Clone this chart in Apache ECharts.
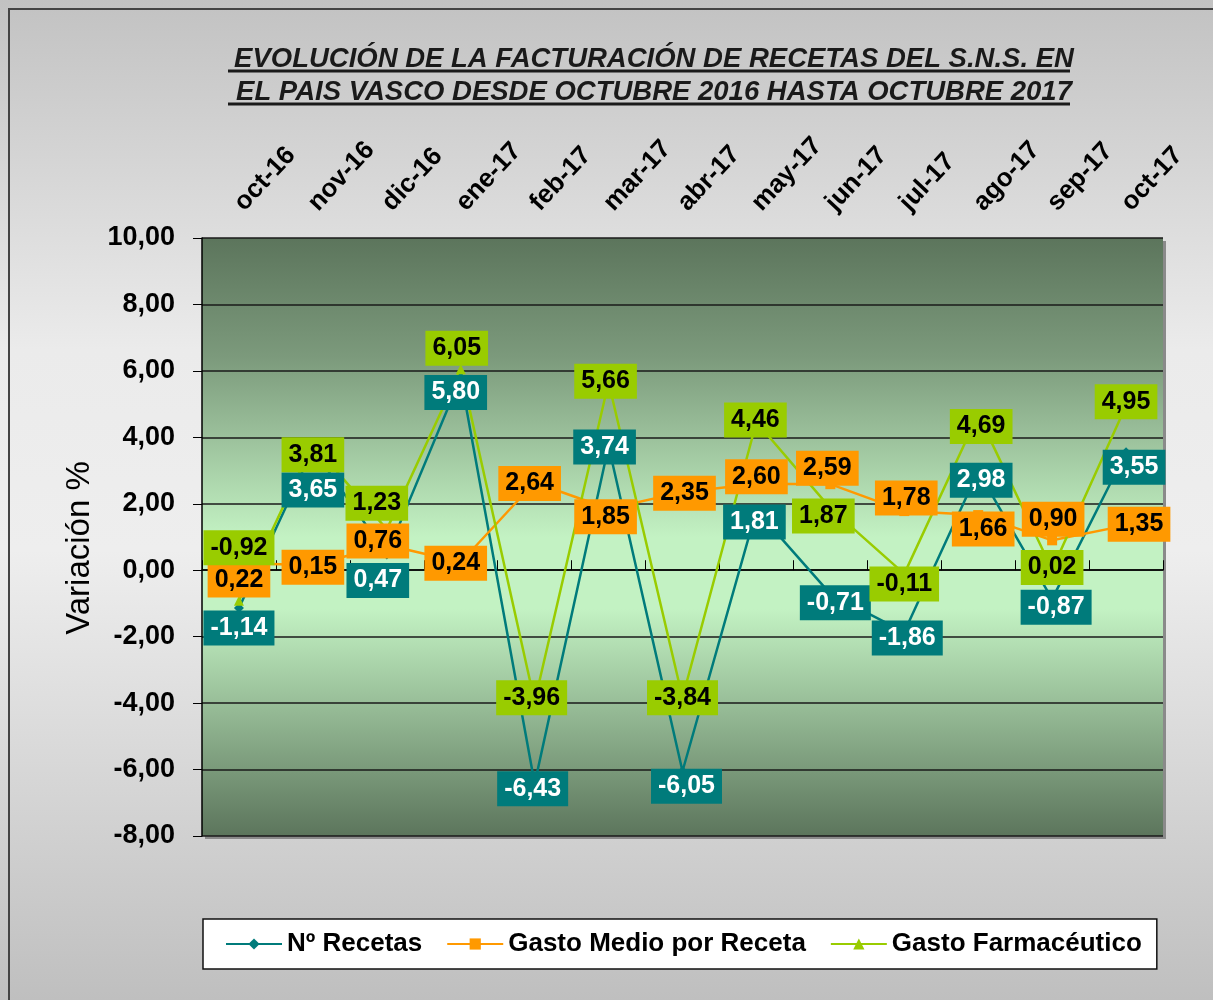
<!DOCTYPE html>
<html>
<head>
<meta charset="utf-8">
<script src="https://cdn.jsdelivr.net/npm/echarts@6/dist/echarts.min.js"></script>
<style>
  html, body { margin: 0; padding: 0; background: #fff; }
  #grafico { width: 1213px; height: 1000px; }
</style>
</head>
<body>
<div id="grafico"></div>
<script>
    // meses
    var meses = ['oct-16', 'nov-16', 'dic-16', 'ene-17', 'feb-17', 'mar-17', 'abr-17',
        'may-17', 'jun-17', 'jul-17', 'ago-17', 'sep-17', 'oct-17'];

    var numRecetas = [-1.14, 3.65, 0.47, 5.80, -6.43, 3.74, -6.05, 1.81, -0.71, -1.86, 2.98, -0.87, 3.55];
    var gastoMedio = [0.22, 0.15, 0.76, 0.24, 2.64, 1.85, 2.35, 2.60, 2.59, 1.78, 1.66, 0.90, 1.35];
    var gastoFarma = [-0.92, 3.81, 1.23, 6.05, -3.96, 5.66, -3.84, 4.46, 1.87, -0.11, 4.69, 0.02, 4.95];

    // desplazamiento de las etiquetas (px)
    var offRecetas = [[0, 20], [0, 41], [-9, 26], [-5, 15], [-2, 5], [-4, 1], [4, 15], [-2, 12], [5, 9], [3, 6], [3, 9], [4, 8], [8, 15]];
    var offMedio = [[0, 17], [0, 2], [-9, -4], [-5, 1], [-5, 1], [-3, 8], [2, 1], [0, -7], [-3, -16], [2, -13], [5, 14], [1, -21], [13, -1]];
    var offFarma = [[0, -53], [0, 11], [-10, -26], [-4, -21], [-3, -4], [-3, -1], [0, 0], [-1, -2], [-7, 8], [0, 10], [3, 12], [0, -2], [0, -4]];

    var fmt = function (v) { return v.toFixed(2).replace('.', ','); };
    var fuente = 'Liberation Sans, Arial';

    function serie(nombre, valores, offs, color, simbolo, colorTexto) {
        return {
            name: nombre,
            type: 'line',
            data: valores.map(function (v, i) {
                return { value: v, label: { offset: offs[i] } };
            }),
            symbol: simbolo,
            symbolSize: 10,
            lineStyle: { color: color, width: 2.5 },
            itemStyle: { color: color },
            label: {
                show: true,
                position: 'inside',
                formatter: function (p) { return fmt(p.value); },
                backgroundColor: color,
                color: colorTexto,
                fontFamily: fuente,
                fontWeight: 'bold',
                fontSize: 25,
                padding: [6, 7, 4, 7]
            },
            emphasis: { disabled: true }
        };
    }

    var dom = document.getElementById('grafico');
    var myChart = echarts.init(dom, null, { renderer: 'canvas' });

    var option = {
        animation: false,
        backgroundColor: {
            type: 'linear', x: 0, y: 0, x2: 0, y2: 1,
            colorStops: [
                { offset: 0, color: '#c2c2c2' },
                { offset: 0.35, color: '#ebebeb' },
                { offset: 0.55, color: '#eeeeee' },
                { offset: 1, color: '#bfbfbf' }
            ]
        },
        title: {
            text: 'EVOLUCIÓN DE LA FACTURACIÓN DE RECETAS DEL S.N.S. EN\nEL PAIS VASCO DESDE OCTUBRE 2016 HASTA OCTUBRE 2017',
            left: 649,
            top: 38,
            textAlign: 'center',
            textStyle: {
                fontFamily: fuente,
                fontStyle: 'italic',
                fontWeight: 'bold',
                fontSize: 27.5,
                lineHeight: 33,
                color: '#1a1a1a'
            }
        },
        graphic: [
            { type: 'rect', shape: { x: 9, y: 9, width: 1220, height: 1010 }, style: { fill: 'none', stroke: '#444', lineWidth: 2 }, silent: true },
            { type: 'line', shape: { x1: 228, y1: 71, x2: 1070, y2: 71 }, style: { stroke: '#1a1a1a', lineWidth: 3 }, silent: true },
            { type: 'line', shape: { x1: 228, y1: 104, x2: 1070, y2: 104 }, style: { stroke: '#1a1a1a', lineWidth: 3 }, silent: true }
        ],
        legend: {
            left: 203,
            top: 919,
            padding: [12, 15, 12, 22],
            itemGap: 24,
            itemWidth: 56,
            itemHeight: 14,
            backgroundColor: '#ffffff',
            borderColor: '#111',
            borderWidth: 1.5,
            textStyle: {
                fontFamily: fuente,
                fontWeight: 'bold',
                fontSize: 26,
                color: '#000'
            },
            data: ['Nº Recetas', 'Gasto Medio por Receta', 'Gasto Farmacéutico']
        },
        grid: {
            left: 202,
            right: 50,
            top: 238,
            bottom: 164,
            show: true,
            borderWidth: 0,
            shadowColor: '#8a8a8a',
            shadowOffsetX: 3,
            shadowOffsetY: 3,
            backgroundColor: {
                type: 'linear', x: 0, y: 0, x2: 0, y2: 1,
                colorStops: [
                    { offset: 0, color: '#5c755c' },
                    { offset: 0.2, color: '#7c9a7c' },
                    { offset: 0.5, color: '#c3f2c3' },
                    { offset: 0.62, color: '#c3f2c3' },
                    { offset: 1, color: '#5c755c' }
                ]
            }
        },
        xAxis: {
            type: 'category',
            position: 'top',
            data: meses,
            boundaryGap: true,
            axisLine: { show: true, lineStyle: { color: '#000', width: 1.5 } },
            axisTick: { show: true, inside: false, length: 10, lineStyle: { color: '#000' } },
            axisLabel: {
                rotate: 47,
                margin: 31,
                fontFamily: fuente,
                fontWeight: 'bold',
                fontSize: 26,
                color: '#000'
            },
            splitLine: { show: false }
        },
        yAxis: {
            type: 'value',
            min: -8,
            max: 10,
            interval: 2,
            name: 'Variación %',
            nameLocation: 'middle',
            nameGap: 103,
            nameTextStyle: {
                fontFamily: fuente,
                fontSize: 33,
                color: '#000',
                padding: [0, 22, 0, 0]
            },
            axisLine: { show: true, lineStyle: { color: '#000', width: 1.5 } },
            axisTick: { show: true, length: 9, lineStyle: { color: '#000' } },
            axisLabel: {
                margin: 27,
                formatter: function (v) { return fmt(v); },
                fontFamily: fuente,
                fontWeight: 'bold',
                fontSize: 27,
                color: '#000'
            },
            splitLine: { show: true, lineStyle: { color: '#1a1a1a', width: 1.5 } }
        },
        series: [
            serie('Nº Recetas', numRecetas, offRecetas, '#007b7b', 'diamond', '#ffffff'),
            serie('Gasto Medio por Receta', gastoMedio, offMedio, '#ff9900', 'rect', '#000000'),
            serie('Gasto Farmacéutico', gastoFarma, offFarma, '#99cc00', 'triangle', '#000000')
        ]
    };

    option && myChart.setOption(option);
</script>
</body>
</html>
